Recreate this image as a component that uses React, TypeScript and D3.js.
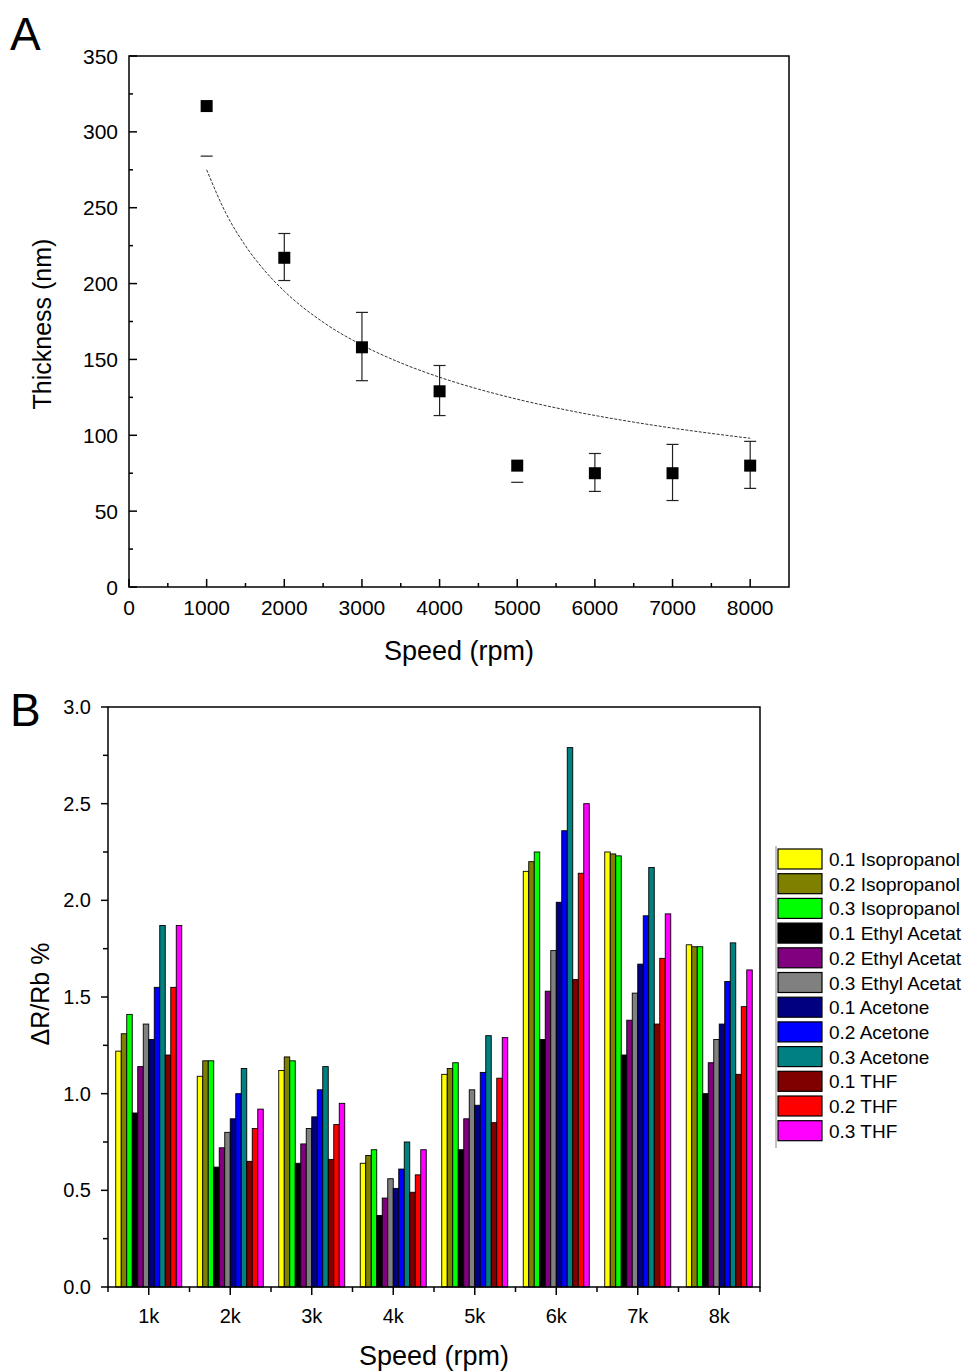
import React from "react";
import * as d3 from "d3";

// ---------- Panel A data ----------
const speedsA = [1000, 2000, 3000, 4000, 5000, 6000, 7000, 8000];
const thickness = [317, 217, 158, 129, 80, 75, 75, 80];
const errLow: (number | null)[] = [284, 202, 136, 113, 69, 63, 57, 65];
const errHigh: (number | null)[] = [null, 233, 181, 146, null, 88, 94, 96];
const fitA = 275; // fit amplitude at 1000 rpm
const fitB = -0.496; // fit exponent
const fitXs = [1000, 1250, 1500, 1750, 2000, 2500, 3000, 3500, 4000, 4500, 5000, 5500, 6000, 6500, 7000, 7500, 8000];
const xTicksA = [0, 1000, 2000, 3000, 4000, 5000, 6000, 7000, 8000];
const yTicksA = [0, 50, 100, 150, 200, 250, 300, 350];

// ---------- Panel B data ----------
const categoriesB = ["1k", "2k", "3k", "4k", "5k", "6k", "7k", "8k"];
const seriesNames = [
  "0.1 Isopropanol",
  "0.2 Isopropanol",
  "0.3 Isopropanol",
  "0.1 Ethyl Acetat",
  "0.2 Ethyl Acetat",
  "0.3 Ethyl Acetat",
  "0.1 Acetone",
  "0.2 Acetone",
  "0.3 Acetone",
  "0.1 THF",
  "0.2 THF",
  "0.3 THF",
];
const seriesColors = [
  "#FFFF00", "#808000", "#00FF00",
  "#000000", "#800080", "#808080",
  "#000080", "#0000FF", "#008080",
  "#800000", "#FF0000", "#FF00FF",
];
// values per series, across categories 1k..8k
const iso01 = [1.22, 1.09, 1.12, 0.64, 1.10, 2.15, 2.25, 1.77];
const iso02 = [1.31, 1.17, 1.19, 0.68, 1.13, 2.20, 2.24, 1.76];
const iso03 = [1.41, 1.17, 1.17, 0.71, 1.16, 2.25, 2.23, 1.76];
const eth01 = [0.90, 0.62, 0.64, 0.37, 0.71, 1.28, 1.20, 1.00];
const eth02 = [1.14, 0.72, 0.74, 0.46, 0.87, 1.53, 1.38, 1.16];
const eth03 = [1.36, 0.80, 0.82, 0.56, 1.02, 1.74, 1.52, 1.28];
const ace01 = [1.28, 0.87, 0.88, 0.51, 0.94, 1.99, 1.67, 1.36];
const ace02 = [1.55, 1.00, 1.02, 0.61, 1.11, 2.36, 1.92, 1.58];
const ace03 = [1.87, 1.13, 1.14, 0.75, 1.30, 2.79, 2.17, 1.78];
const thf01 = [1.20, 0.65, 0.66, 0.49, 0.85, 1.59, 1.36, 1.10];
const thf02 = [1.55, 0.82, 0.84, 0.58, 1.08, 2.14, 1.70, 1.45];
const thf03 = [1.87, 0.92, 0.95, 0.71, 1.29, 2.50, 1.93, 1.64];
const seriesValues = [iso01, iso02, iso03, eth01, eth02, eth03, ace01, ace02, ace03, thf01, thf02, thf03];
const yTicksB = [0, 0.5, 1.0, 1.5, 2.0, 2.5, 3.0];

const FONT = "Arial, 'Liberation Sans', sans-serif";

function PanelA() {
  const L = 129, R = 789, T = 56, B = 587;
  const x = d3.scaleLinear().domain([0, 8500]).range([L, R]);
  const y = d3.scaleLinear().domain([0, 350]).range([B, T]);
  const minorX = d3.range(500, 8500, 1000);
  const minorY = d3.range(25, 350, 50);
  const line = d3
    .line<number>()
    .x((d) => x(d))
    .y((d) => y(fitA * Math.pow(d / 1000, fitB)))
    .curve(d3.curveMonotoneX);
  return (
    <g fontFamily={FONT}>
      <text x={10} y={50} fontSize={46}>A</text>
      <rect x={L} y={T} width={R - L} height={B - T} fill="none" stroke="#000" strokeWidth={1.5} />
      {xTicksA.map((t) => (
        <g key={"xt" + t}>
          <line x1={x(t)} x2={x(t)} y1={B} y2={B - 8} stroke="#000" strokeWidth={1.5} />
          <text x={x(t)} y={615} fontSize={21} textAnchor="middle">{t}</text>
        </g>
      ))}
      {minorX.map((t) => (
        <line key={"xm" + t} x1={x(t)} x2={x(t)} y1={B} y2={B - 4} stroke="#000" strokeWidth={1.5} />
      ))}
      {yTicksA.map((t) => (
        <g key={"yt" + t}>
          <line x1={L} x2={L + 8} y1={y(t)} y2={y(t)} stroke="#000" strokeWidth={1.5} />
          <text x={118} y={y(t) + 7.5} fontSize={21} textAnchor="end">{t}</text>
        </g>
      ))}
      {minorY.map((t) => (
        <line key={"ym" + t} x1={L} x2={L + 4} y1={y(t)} y2={y(t)} stroke="#000" strokeWidth={1.5} />
      ))}
      <text x={459} y={660} fontSize={27} textAnchor="middle">Speed (rpm)</text>
      <text transform={`translate(51,${324}) rotate(-90)`} fontSize={25} textAnchor="middle">Thickness (nm)</text>
      <path d={line(fitXs) || ""} fill="none" stroke="#333" strokeWidth={1} strokeDasharray="3,1.5" />
      {speedsA.map((s, i) => {
        const lo = errLow[i];
        const hi = errHigh[i];
        const cx = x(s);
        return (
          <g key={"pt" + s}>
            {lo !== null && hi !== null && (
              <line x1={cx} x2={cx} y1={y(lo)} y2={y(hi)} stroke="#222" strokeWidth={1.2} />
            )}
            {lo !== null && <line x1={cx - 6} x2={cx + 6} y1={y(lo)} y2={y(lo)} stroke="#222" strokeWidth={1.2} />}
            {hi !== null && <line x1={cx - 6} x2={cx + 6} y1={y(hi)} y2={y(hi)} stroke="#222" strokeWidth={1.2} />}
            <rect x={cx - 6} y={y(thickness[i]) - 6} width={12} height={12} fill="#000" />
          </g>
        );
      })}
    </g>
  );
}

function PanelB() {
  const L = 108, R = 760, T = 707, B = 1287;
  const x0 = d3.scaleBand<string>().domain(categoriesB).range([L, R]).padding(0);
  const bw = x0.bandwidth();
  const groupW = bw * 0.81;
  const x1 = d3.scaleBand<string>().domain(seriesNames).range([0, groupW]).padding(0);
  const y = d3.scaleLinear().domain([0, 3]).range([B, T]);
  const minorY = d3.range(0.25, 3, 0.5);
  const legX = 778, legY0 = 849, legStep = 24.7;
  return (
    <g fontFamily={FONT}>
      <text x={10} y={726} fontSize={46}>B</text>
      {categoriesB.map((c, ci) => {
        const gx = (x0(c) as number) + (bw - groupW) / 2;
        return (
          <g key={"grp" + c}>
            {seriesNames.map((s, si) => {
              const v = seriesValues[si][ci];
              return (
                <rect
                  key={s}
                  x={gx + (x1(s) as number)}
                  y={y(v)}
                  width={x1.bandwidth()}
                  height={B - y(v)}
                  fill={seriesColors[si]}
                  stroke="#000"
                  strokeWidth={0.9}
                />
              );
            })}
          </g>
        );
      })}
      <rect x={L} y={T} width={R - L} height={B - T} fill="none" stroke="#000" strokeWidth={1.5} />
      {categoriesB.map((c) => {
        const cx = (x0(c) as number) + bw / 2;
        return (
          <g key={"xt" + c}>
            <line x1={cx} x2={cx} y1={B} y2={B + 8} stroke="#000" strokeWidth={1.5} />
            <text x={cx} y={1323} fontSize={20} textAnchor="middle">{c}</text>
          </g>
        );
      })}
      {d3.range(0, categoriesB.length + 1).map((i) => (
        <line key={"xm" + i} x1={L + i * bw} x2={L + i * bw} y1={B} y2={B + 5} stroke="#000" strokeWidth={1.5} />
      ))}
      {yTicksB.map((t) => (
        <g key={"yt" + t}>
          <line x1={L} x2={L - 7} y1={y(t)} y2={y(t)} stroke="#000" strokeWidth={1.5} />
          <text x={91} y={y(t) + 7} fontSize={20} textAnchor="end">{t.toFixed(1)}</text>
        </g>
      ))}
      {minorY.map((t) => (
        <line key={"ym" + t} x1={L} x2={L - 5} y1={y(t)} y2={y(t)} stroke="#000" strokeWidth={1.5} />
      ))}
      <text x={434} y={1365} fontSize={27} textAnchor="middle">Speed (rpm)</text>
      <text transform={`translate(49,${994}) rotate(-90)`} fontSize={25} textAnchor="middle">ΔR/Rb %</text>
      <line x1={776} x2={776} y1={846} y2={1148} stroke="#999" strokeWidth={1.2} />
      {seriesNames.map((s, i) => (
        <g key={"lg" + s}>
          <rect x={legX} y={legY0 + i * legStep} width={44} height={20} fill={seriesColors[i]} stroke="#000" strokeWidth={1.2} />
          <text x={829} y={legY0 + i * legStep + 17} fontSize={19}>{s}</text>
        </g>
      ))}
    </g>
  );
}

export default function App() {
  return (
    <svg
      width={971}
      height={1371}
      style={{ position: "absolute", left: 0, top: 0, background: "#fff" }}
    >
      <rect x={0} y={0} width={971} height={1371} fill="#fff" />
      <PanelA />
      <PanelB />
    </svg>
  );
}
